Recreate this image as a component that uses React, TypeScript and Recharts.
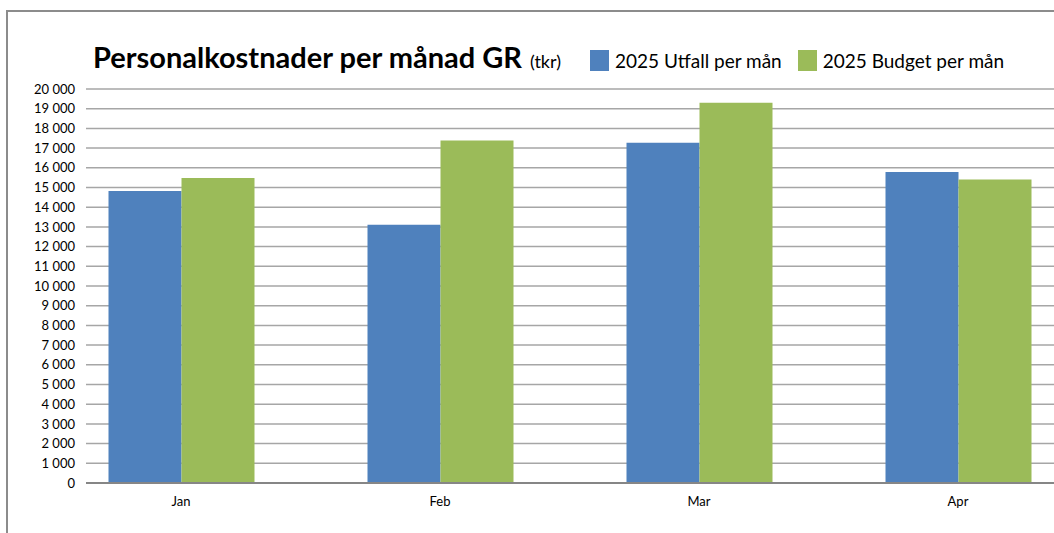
import { BarChart, Bar, XAxis, YAxis, CartesianGrid } from "recharts"

const months = ["Jan", "Feb", "Mar", "Apr"]
const utfall = [14820, 13110, 17270, 15790]
const budget = [15480, 17390, 19300, 15400]
const yTicks = [0, 1000, 2000, 3000, 4000, 5000, 6000, 7000, 8000, 9000, 10000, 11000, 12000, 13000, 14000, 15000, 16000, 17000, 18000, 19000, 20000]

const BLUE = "#4F81BD"
const GREEN = "#9BBB59"
const FONT = "Lato, 'Open Sans', sans-serif"

const data = months.map((m, i) => ({ month: m, utfall: utfall[i], budget: budget[i] }))

const fmt = (v: number) => v.toLocaleString("en-US").replace(/,/g, " ")

export default function App() {
  return (
    <div style={{ position: "absolute", left: 0, top: 0, width: 1054, height: 533, background: "#fff", fontFamily: FONT, overflow: "hidden" }}>
      <div style={{ position: "absolute", left: 6, top: 10, width: 1060, height: 540, borderTop: "2px solid #8c8c8c", borderLeft: "2px solid #8c8c8c" }} />
      <div style={{ position: "absolute", left: 93, top: 39, whiteSpace: "nowrap", color: "#000" }}>
        <span style={{ fontSize: 29, fontWeight: 700 }}>Personalkostnader per månad GR</span>
        <span style={{ fontSize: 18, marginLeft: 8 }}>(tkr)</span>
      </div>
      <div style={{ position: "absolute", left: 590, top: 49, display: "flex", alignItems: "center", fontSize: 19, whiteSpace: "nowrap" }}>
        <span style={{ width: 19, height: 21, background: BLUE, display: "inline-block", marginRight: 6 }} />
        <span style={{ marginRight: 16 }}>2025 Utfall per mån</span>
        <span style={{ width: 19, height: 21, background: GREEN, display: "inline-block", marginRight: 6 }} />
        <span>2025 Budget per mån</span>
      </div>
      <div style={{ position: "absolute", left: 0, top: 0 }}>
        <BarChart width={1054} height={533} data={data} margin={{ top: 89, right: 0, left: 0, bottom: 20 }} barGap={0} barSize={73}>
          <CartesianGrid vertical={false} stroke="#a6a6a6" strokeWidth={1.5} />
          <XAxis
            dataKey="month"
            height={30}
            padding={{ left: -34.5, right: -33.5 }}
            axisLine={{ stroke: "#868686", strokeWidth: 2 }}
            tickLine={false}
            tickMargin={8}
            tick={{ fill: "#000", fontSize: 13, fontFamily: FONT }}
          />
          <YAxis
            width={86}
            domain={[0, 20000]}
            ticks={yTicks}
            interval={0}
            axisLine={false}
            tickLine={false}
            tickMargin={5}
            tickFormatter={fmt}
            tick={{ fill: "#000", fontSize: 13, fontFamily: FONT }}
          />
          <Bar dataKey="utfall" fill={BLUE} isAnimationActive={false} />
          <Bar dataKey="budget" fill={GREEN} isAnimationActive={false} />
        </BarChart>
      </div>
    </div>
  )
}
